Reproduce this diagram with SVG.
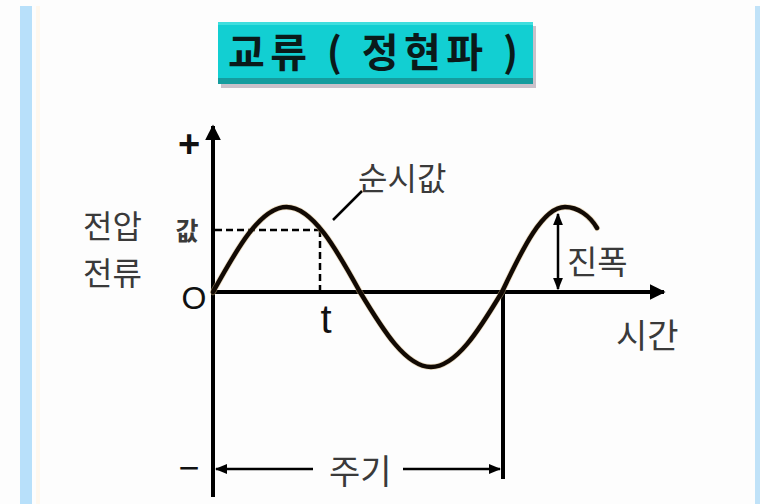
<svg xmlns="http://www.w3.org/2000/svg" width="760" height="504" viewBox="0 0 760 504">
<style>
.ax{stroke:#000;stroke-width:4;fill:none}
.thin{stroke:#000;stroke-width:2.5;fill:none}
.dash{stroke:#000;stroke-width:2.5;fill:none;stroke-dasharray:7 4}
.lbl{font-family:"Noto Sans CJK KR","Noto Sans",sans-serif;fill:#3a3a3a}
.sym{font-family:"Liberation Sans",Arial,sans-serif;fill:#111}
</style>
<defs>
<marker id="ah" viewBox="0 0 10 10" refX="9" refY="5" markerWidth="4" markerHeight="4" orient="auto-start-reverse" markerUnits="strokeWidth">
<path d="M0,0 L10,5 L0,10 z" fill="#000"/>
</marker>
<marker id="ah2" viewBox="0 0 10 10" refX="9" refY="5" markerWidth="5" markerHeight="5" orient="auto-start-reverse" markerUnits="strokeWidth">
<path d="M0,1 L10,5 L0,9 z" fill="#000"/>
</marker>
</defs>
<rect x="0" y="0" width="760" height="504" fill="#fdfdfd"/>
<rect x="20" y="6" width="12" height="498" fill="#b8e0fa"/>
<rect x="36" y="6" width="4" height="498" fill="#fff8ee"/>
<rect x="755" y="6" width="5" height="498" fill="#c0e2f8"/>

<g id="title">
<rect x="221" y="26" width="315" height="62" fill="#a89aa8" opacity="0.6"/>
<rect x="218" y="22" width="315" height="62" fill="#12cfd2"/>
<rect x="218" y="78" width="315" height="6" fill="#159c9e"/>
<rect x="218" y="22" width="315" height="3" fill="#3fdede"/>
<text x="228" y="67" font-family="'Noto Sans CJK KR',sans-serif" font-size="40" font-weight="bold" fill="#0a1a1a" textLength="290" lengthAdjust="spacing">교류 ( 정현파 )</text>
</g>

<g id="connectors">
<line class="ax" x1="213" y1="497" x2="213" y2="126" marker-end="url(#ah)"/>
<line class="ax" x1="213" y1="292" x2="664" y2="292" marker-end="url(#ah)"/>
<line class="ax" x1="503" y1="292" x2="503" y2="479"/>
<line class="dash" x1="215" y1="230" x2="320" y2="230"/>
<line class="dash" x1="320" y1="230" x2="320" y2="291"/>
<line class="thin" x1="333" y1="220" x2="362" y2="191"/>
<line class="thin" x1="558" y1="214" x2="558" y2="289" marker-start="url(#ah2)" marker-end="url(#ah2)"/>
<line class="thin" x1="313" y1="469" x2="216" y2="469" marker-end="url(#ah2)"/>
<line class="thin" x1="403" y1="469" x2="500" y2="469" marker-end="url(#ah2)"/>
</g>

<g id="wave">
<path d="M213,292 C237,248.5 260.6,207 286.5,207 C312.4,207 336,248.5 360,292 C383.1,330.4 406,367 431,367 C456,367 478.9,330.4 502,292 C522.5,248.5 542.8,207 565,207 C578,207 590,216 597,228" fill="none" stroke="#d8b880" stroke-width="6" stroke-linecap="round" opacity="0.5"/>
<path d="M213,292 C237,248.5 260.6,207 286.5,207 C312.4,207 336,248.5 360,292 C383.1,330.4 406,367 431,367 C456,367 478.9,330.4 502,292 C522.5,248.5 542.8,207 565,207 C578,207 590,216 597,228" fill="none" stroke="#120a04" stroke-width="4.5" stroke-linecap="round"/>
</g>

<g id="labels">
<text class="sym" x="189" y="157" font-size="38" font-weight="bold" text-anchor="middle">+</text>
<text class="sym" x="189" y="480" font-size="36" text-anchor="middle">−</text>
<text class="sym" x="194" y="309" font-size="32" text-anchor="middle" fill="#222">O</text>
<text class="sym" x="326" y="333" font-size="40" text-anchor="middle" fill="#333">t</text>
<text class="lbl" x="83" y="238" font-size="32">전압</text>
<text class="lbl" x="83" y="285" font-size="32">전류</text>
<text class="lbl" x="187" y="240" font-size="25" font-weight="bold" text-anchor="middle" fill="#8a7a4a">값</text>
<text class="lbl" x="358" y="190" font-size="32">순시값</text>
<text class="lbl" x="567" y="274" font-size="33">진폭</text>
<text class="lbl" x="616" y="348" font-size="34">시간</text>
<text class="lbl" x="329" y="484" font-size="34">주기</text>
</g>
</svg>
